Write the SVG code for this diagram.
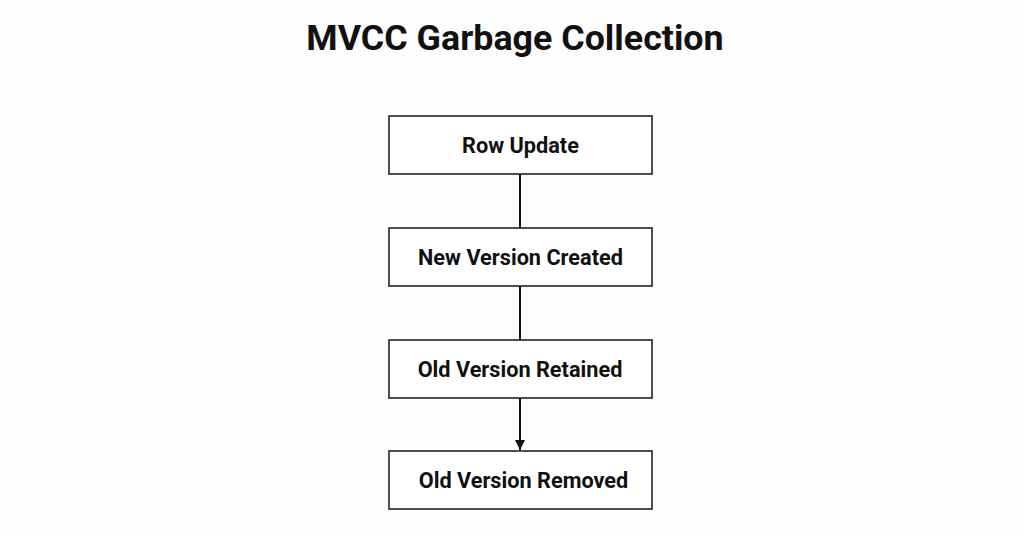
<svg xmlns="http://www.w3.org/2000/svg" width="1024" height="536" viewBox="0 0 1024 536">
<defs>
<style>
.box{fill:#fff;stroke:#222;stroke-width:1.6}
.lbl{font-family:Roboto,"Liberation Sans",sans-serif;font-weight:bold;font-size:21.7px;fill:#111;text-anchor:middle;dominant-baseline:central}
.conn{stroke:#111;stroke-width:2;fill:none}
</style>
<marker id="arr" viewBox="0 0 10 10" refX="10" refY="5" markerWidth="5" markerHeight="5" orient="auto" markerUnits="strokeWidth">
<path d="M0,0 L10,5 L0,10 z" fill="#111"/>
</marker>
</defs>
<rect width="1024" height="536" fill="#fdfdfd"/>
<text x="515" y="50" font-family="Roboto,'Liberation Sans',sans-serif" font-weight="bold" font-size="35.8" fill="#111" text-anchor="middle">MVCC Garbage Collection</text>
<g id="connectors">
<line class="conn" x1="520" y1="174" x2="520" y2="228"/>
<line class="conn" x1="520" y1="286" x2="520" y2="340"/>
<line class="conn" x1="520" y1="398" x2="520" y2="450" marker-end="url(#arr)"/>
</g>
<g id="n1"><rect class="box" x="389" y="116" width="263" height="58"/><text class="lbl" x="520.5" y="145">Row Update</text></g>
<g id="n2"><rect class="box" x="389" y="228" width="263" height="58"/><text class="lbl" x="520.5" y="257">New Version Created</text></g>
<g id="n3"><rect class="box" x="389" y="340" width="263" height="58"/><text class="lbl" x="520" y="369">Old Version Retained</text></g>
<g id="n4"><rect class="box" x="389" y="451" width="263" height="58"/><text class="lbl" x="523.5" y="480">Old Version Removed</text></g>
</svg>
